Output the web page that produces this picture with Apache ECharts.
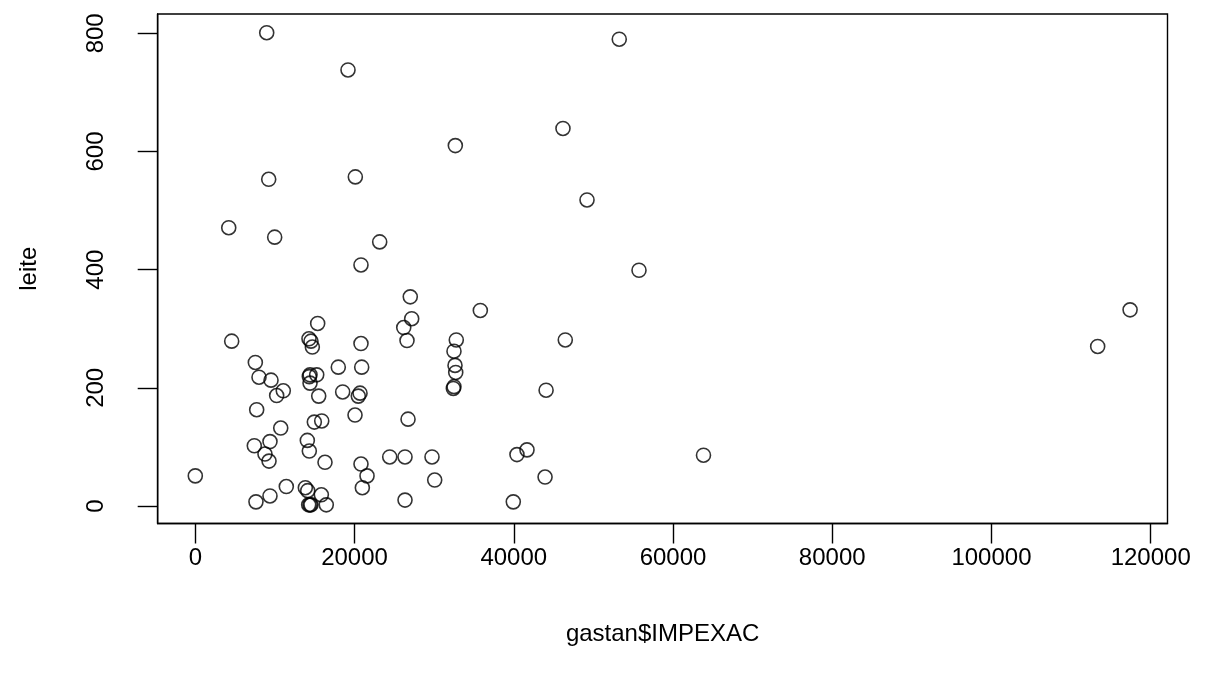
<!DOCTYPE html>
<html>
<head>
<meta charset="utf-8">
<script src="https://cdn.jsdelivr.net/npm/echarts@6/dist/echarts.min.js"></script>
<style>html,body{margin:0;padding:0;background:#fff;}#c{width:1209px;height:677px;}</style>
</head>
<body>
<div id="c"></div>
<script>
// gastan$IMPEXAC values
const impexac = [
  20810, 15370, 4570, 14280, 14530, 14700, 20810, 7540, 17960, 20900,
  8000, 9510, 14410, 15250, 14320, 14410, 11050, 10220, 15500, 18510,
  20690, 20470, 7710, 20060, 15880, 14950, 10730, 14070, 9380, 7410,
  14320, 8750, 9260, 16290, 20810, 0, 21570, 20980, 11430, 9380,
  7620, 13820, 14120, 15830, 14240, 14410, 14530, 16450,
  27000, 35800, 46470, 27180, 26180, 26590, 32780, 32490, 32620, 32710,
  32490, 32410, 44060, 26720, 24420, 26340, 29730, 30070, 26340, 41660,
  40400, 43930, 39940,
  8970, 53250, 19180, 46180, 32660, 9220, 20100, 49200, 4200, 9970,
  23160, 55730,
  117410, 113340, 63830
];
// leite values
const leite = [
  408, 309, 279, 283, 279, 269, 275, 243, 235, 235,
  218, 213, 222, 222, 219, 208, 195, 187, 186, 193,
  191, 186, 163, 154, 144, 142, 132, 111, 109, 102,
  93, 88, 76, 74, 71, 51, 51, 31, 33, 17,
  7, 31, 26, 19, 2, 2, 2, 2,
  354, 331, 281, 317, 302, 280, 281, 262, 238, 226,
  202, 199, 196, 147, 83, 83, 83, 44, 10, 95,
  87, 49, 7,
  801, 790, 738, 639, 610, 553, 557, 518, 471, 455,
  447, 399,
  332, 270, 86
];
const xTicks = [0, 20000, 40000, 60000, 80000, 100000, 120000];
const yTicks = [0, 200, 400, 600, 800];

const pts = impexac.map((x, i) => [x, leite[i]]);
const font = '"Liberation Sans", Arial, sans-serif';
const fs = 24;

const chart = echarts.init(document.getElementById('c'), null, {renderer: 'canvas'});
chart.setOption({
  animation: false,
  backgroundColor: '#fff',
  grid: {
    left: 157.7, right: 41.5, top: 14, bottom: 153.5,
    show: true, borderColor: '#000', borderWidth: 1.4, backgroundColor: 'transparent'
  },
  xAxis: {
    type: 'value', min: -4723, max: 122110,
    name: 'gastan$IMPEXAC', nameLocation: 'middle', nameGap: 99,
    nameTextStyle: {fontFamily: font, fontSize: fs, color: '#000'},
    axisLine: {show: true, onZero: false, lineStyle: {color: '#000', width: 1.4}},
    axisTick: {show: true, inside: false, length: 20, customValues: xTicks, lineStyle: {color: '#000', width: 1.4}},
    axisLabel: {customValues: xTicks, margin: 23, fontFamily: font, fontSize: fs, color: '#000',
      formatter: v => String(v)},
    splitLine: {show: false}
  },
  yAxis: {
    type: 'value', min: -29.6, max: 832.7,
    name: 'leite', nameLocation: 'middle', nameGap: 116, nameRotate: 90,
    nameTextStyle: {fontFamily: font, fontSize: fs, color: '#000'},
    axisLine: {show: true, onZero: false, lineStyle: {color: '#000', width: 1.4}},
    axisTick: {show: true, inside: false, length: 20, customValues: yTicks, lineStyle: {color: '#000', width: 1.4}},
    axisLabel: {customValues: yTicks, rotate: 90, margin: 49, fontFamily: font, fontSize: fs, color: '#000',
      formatter: v => String(v)},
    splitLine: {show: false}
  },
  series: [{
    type: 'scatter',
    data: pts,
    symbol: 'circle',
    symbolSize: 14,
    itemStyle: {color: 'transparent', borderColor: '#000', borderWidth: 1.6},
    emphasis: {disabled: true}
  }]
});
</script>
</body>
</html>
